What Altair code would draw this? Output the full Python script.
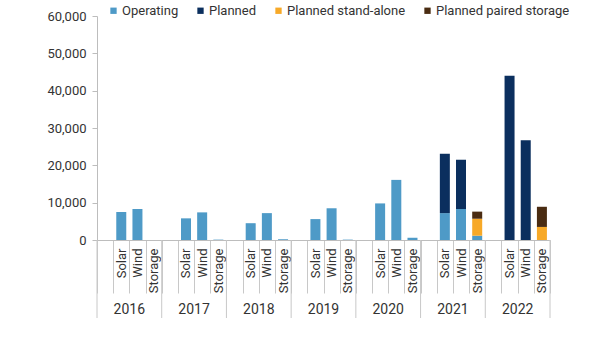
import altair as alt
import pandas as pd

years = ["2016", "2017", "2018", "2019", "2020", "2021", "2022"]
techs = ["Solar", "Wind", "Storage"]
series = ["Operating", "Planned", "Planned stand-alone", "Planned paired storage"]
colors = ["#4E9AC7", "#0B2F5E", "#F7A928", "#4A2C12"]

operating_solar = [7500, 5800, 4500, 5600, 9800, 7200, 0]
operating_wind = [8300, 7400, 7200, 8500, 16100, 8300, 0]
operating_storage = [0, 100, 200, 100, 600, 1150, 0]
planned_solar = [0, 0, 0, 0, 0, 15900, 44000]
planned_wind = [0, 0, 0, 0, 0, 13200, 26700]
standalone_storage = [0, 0, 0, 0, 0, 4550, 3500]
paired_storage = [0, 0, 0, 0, 0, 1900, 5400]

values = {
    ("Solar", "Operating"): operating_solar,
    ("Wind", "Operating"): operating_wind,
    ("Storage", "Operating"): operating_storage,
    ("Solar", "Planned"): planned_solar,
    ("Wind", "Planned"): planned_wind,
    ("Storage", "Planned stand-alone"): standalone_storage,
    ("Storage", "Planned paired storage"): paired_storage,
}

slots = []
for y in years:
    slots.append(y + "|")
    for t in techs:
        slots.append(y + "|" + t)

rows = []
for (tech, ser), vals in values.items():
    for y, v in zip(years, vals):
        if v > 0:
            rows.append({"slot": y + "|" + tech, "series": ser, "value": v,
                         "order": series.index(ser) if ser != "Planned" else 9})
bars_df = pd.DataFrame(rows)
years_df = pd.DataFrame({"year": years})
end_df = pd.DataFrame({"year": [years[-1]]})

W, H = 453, 224
FONT = "Roboto"

slot_scale = alt.Scale(domain=slots, paddingInner=0, paddingOuter=0)
year_scale = alt.Scale(domain=years, paddingInner=0, paddingOuter=0)

bars = alt.Chart(bars_df).mark_bar(size=10).encode(
    x=alt.X("slot:N", scale=slot_scale, sort=slots, axis=alt.Axis(
        title=None, labelAngle=-90, tickBand="extent", tickSize=53,
        labelPadding=-45, labelFontSize=13, labelColor="#333333",
        labelExpr="split(datum.label, '|')[1]",
        domainColor="#bdbdbd", tickColor="#c8c8c8", labelFont=FONT)),
    y=alt.Y("value:Q", stack="zero", scale=alt.Scale(domain=[0, 60000], nice=False),
            axis=alt.Axis(title=None, values=[0, 10000, 20000, 30000, 40000, 50000, 60000],
                          format=",.0f", grid=False, tickSize=5, labelPadding=6,
                          domainColor="#bdbdbd", tickColor="#bdbdbd",
                          labelFontSize=13, labelColor="#333333", labelFont=FONT)),
    color=alt.Color("series:N", scale=alt.Scale(domain=series, range=colors),
                    legend=alt.Legend(title=None, orient="none", legendX=10, legendY=-12,
                                      direction="horizontal", symbolType="square",
                                      symbolSize=40, symbolStrokeWidth=0, labelFontSize=13,
                                      labelColor="#333333", labelFont=FONT,
                                      columnPadding=15, symbolOffset=0, labelOffset=2)),
    order=alt.Order("order:Q"),
)

dividers = alt.Chart(years_df).mark_rule(color="#c8c8c8", strokeWidth=1).encode(
    x=alt.X("year:N", scale=year_scale, bandPosition=0, axis=None),
    y=alt.value(H), y2=alt.value(H + 78),
)
end_divider = alt.Chart(end_df).mark_rule(color="#c8c8c8", strokeWidth=1).encode(
    x=alt.X("year:N", scale=year_scale, bandPosition=1, axis=None),
    y=alt.value(H), y2=alt.value(H + 78),
)
year_labels = alt.Chart(years_df).mark_text(fontSize=14, color="#333333", font=FONT,
                                            baseline="middle").encode(
    x=alt.X("year:N", scale=year_scale, axis=None),
    y=alt.value(H + 70),
    text="year:N",
)

chart = alt.layer(bars, dividers, end_divider, year_labels).resolve_scale(
    x="independent"
).properties(
    width=W, height=H,
    autosize=alt.AutoSizeParams(type="none"),
    padding={"left": 97, "top": 16, "right": 50, "bottom": 98},
).configure_view(stroke=None)

chart.save("out.html", embed_options={"renderer": "svg", "actions": False})
